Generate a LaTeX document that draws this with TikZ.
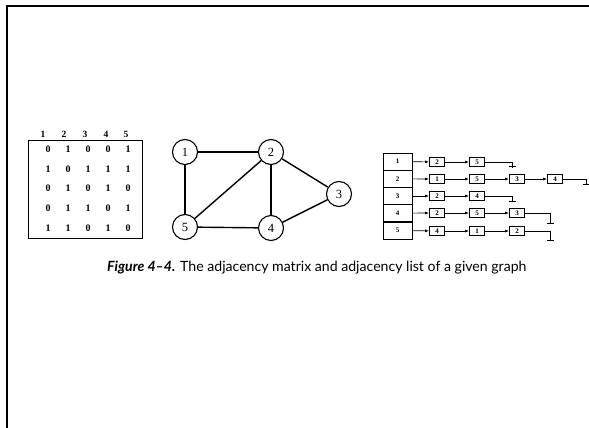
\documentclass[tikz,border=0pt]{standalone}
\usepackage{fontspec}
\setmainfont{Liberation Serif}
\newfontfamily\capfont{Lato}
\usetikzlibrary{arrows.meta}

\begin{document}
\begin{tikzpicture}[x=1pt,y=-1pt,
  vtx/.style={circle,draw,line width=1.1pt,minimum size=25pt,inner sep=0pt,font=\fontsize{12.5}{12.5}\selectfont},
  edge/.style={line width=1.4pt},
  mnum/.style={inner sep=0pt,font=\bfseries\fontsize{10}{10}\selectfont},
  hnum/.style={inner sep=0pt,font=\bfseries\fontsize{9.5}{9.5}\selectfont},
  headbox/.style={draw,line width=0.8pt,minimum width=29pt,minimum height=17pt,inner sep=0pt,font=\bfseries\fontsize{7}{7}\selectfont},
  cellbox/.style={draw,line width=0.8pt,minimum width=15pt,minimum height=9pt,inner sep=0pt,font=\bfseries\fontsize{7}{7}\selectfont},
  ptr/.style={line width=0.7pt,-{Latex[length=4pt,width=3pt]}},
  nil/.style={line width=0.7pt}
]
\useasboundingbox (0,0) rectangle (589,428);
% page frame
\draw[line width=2pt] (7,428) -- (7,6) -- (589,6);

% ---------- adjacency matrix ----------
\foreach \c [count=\i] in {43,64,85,106,126}
  \node[hnum] (h\i) at (\c,134) {\i};
\draw[line width=1pt] (28,140) rectangle (142,238);
\foreach \row [count=\r] in {{0,1,0,0,1},{1,0,1,1,1},{0,1,0,1,0},{0,1,1,0,1},{1,1,0,1,0}}{
  \pgfmathsetmacro{\yy}{149+(\r-1)*19.75}
  \foreach \v [count=\c] in \row {
    \pgfmathsetmacro{\xx}{48+(\c-1)*20}
    \node[mnum] (m\r\c) at (\xx,\yy) {\v};
  }
}

% ---------- graph ----------
\node[vtx] (g1) at (185,152) {1};
\node[vtx] (g2) at (271,152) {2};
\node[vtx] (g3) at (339,194) {3};
\node[vtx] (g4) at (271,228) {4};
\node[vtx] (g5) at (185,227) {5};
\draw[edge] (g1) -- (g2);
\draw[edge] (g1) -- (g5);
\draw[edge] (g2) -- (g5);
\draw[edge] (g2) -- (g4);
\draw[edge] (g2) -- (g3);
\draw[edge] (g3) -- (g4);
\draw[edge] (g5) -- (g4);

% ---------- adjacency list ----------
\foreach \i/\y in {1/161.6,2/178.8,3/196,4/213.2,5/230.4}
  \node[headbox] (a\i) at (397.5,\y) {\i};

% row 1: 2, 5
\node[cellbox] (c11) at (437,162) {2};
\node[cellbox] (c12) at (477,162) {5};
\coordinate (t1a) at (512,162);
\coordinate (t1b) at (512,168);
\draw[ptr] (a1) -- (c11);
\draw[ptr] (c11) -- (c12);
\draw[nil] (c12) -- (t1a) -- (t1b);
\draw[nil] ([xshift=-3.5pt,yshift=2pt]t1b) -- ([xshift=3.5pt,yshift=2pt]t1b);

% row 2: 1, 5, 3, 4
\node[cellbox] (c21) at (437,179) {1};
\node[cellbox] (c22) at (477,179) {5};
\node[cellbox] (c23) at (517,179) {3};
\node[cellbox] (c24) at (555,179) {4};
\coordinate (t2a) at (586,179);
\coordinate (t2b) at (586,185);
\draw[ptr] (a2) -- (c21);
\draw[ptr] (c21) -- (c22);
\draw[ptr] (c22) -- (c23);
\draw[ptr] (c23) -- (c24);
\draw[nil] (c24) -- (t2a) -- (t2b);
\draw[nil] ([xshift=-3.5pt,yshift=1pt]t2b) -- ([xshift=3.5pt,yshift=1pt]t2b);

% row 3: 2, 4
\node[cellbox] (c31) at (437,196) {2};
\node[cellbox] (c32) at (477,196) {4};
\coordinate (t3a) at (512,196);
\coordinate (t3b) at (512,202);
\draw[ptr] (a3) -- (c31);
\draw[ptr] (c31) -- (c32);
\draw[nil] (c32) -- (t3a) -- (t3b);
\draw[nil] ([xshift=-3.5pt,yshift=1pt]t3b) -- ([xshift=3.5pt,yshift=1pt]t3b);

% row 4: 2, 5, 3
\node[cellbox] (c41) at (437,213) {2};
\node[cellbox] (c42) at (477,213) {5};
\node[cellbox] (c43) at (517,213) {3};
\coordinate (t4a) at (550,213);
\coordinate (t4b) at (550,224);
\draw[ptr] (a4) -- (c41);
\draw[ptr] (c41) -- (c42);
\draw[ptr] (c42) -- (c43);
\draw[nil] (c43) -- (t4a) -- (t4b);
\draw[nil] ([xshift=-3.5pt,yshift=1pt]t4b) -- ([xshift=3.5pt,yshift=1pt]t4b);

% row 5: 4, 1, 2
\node[cellbox] (c51) at (437,231) {4};
\node[cellbox] (c52) at (477,231) {1};
\node[cellbox] (c53) at (517,231) {2};
\coordinate (t5a) at (550,231);
\coordinate (t5b) at (550,241);
\draw[ptr] (a5) -- (c51);
\draw[ptr] (c51) -- (c52);
\draw[ptr] (c52) -- (c53);
\draw[nil] (c53) -- (t5a) -- (t5b);
\draw[nil] ([xshift=-3.5pt,yshift=1pt]t5b) -- ([xshift=3.5pt,yshift=1pt]t5b);

% ---------- caption ----------
\node[inner sep=0pt,anchor=west,font=\capfont\fontsize{14.1}{15}\selectfont] (cap) at (107,268)
  {{\bfseries\itshape Figure 4–4.} The adjacency matrix and adjacency list of a given graph};
\end{tikzpicture}
\end{document}
